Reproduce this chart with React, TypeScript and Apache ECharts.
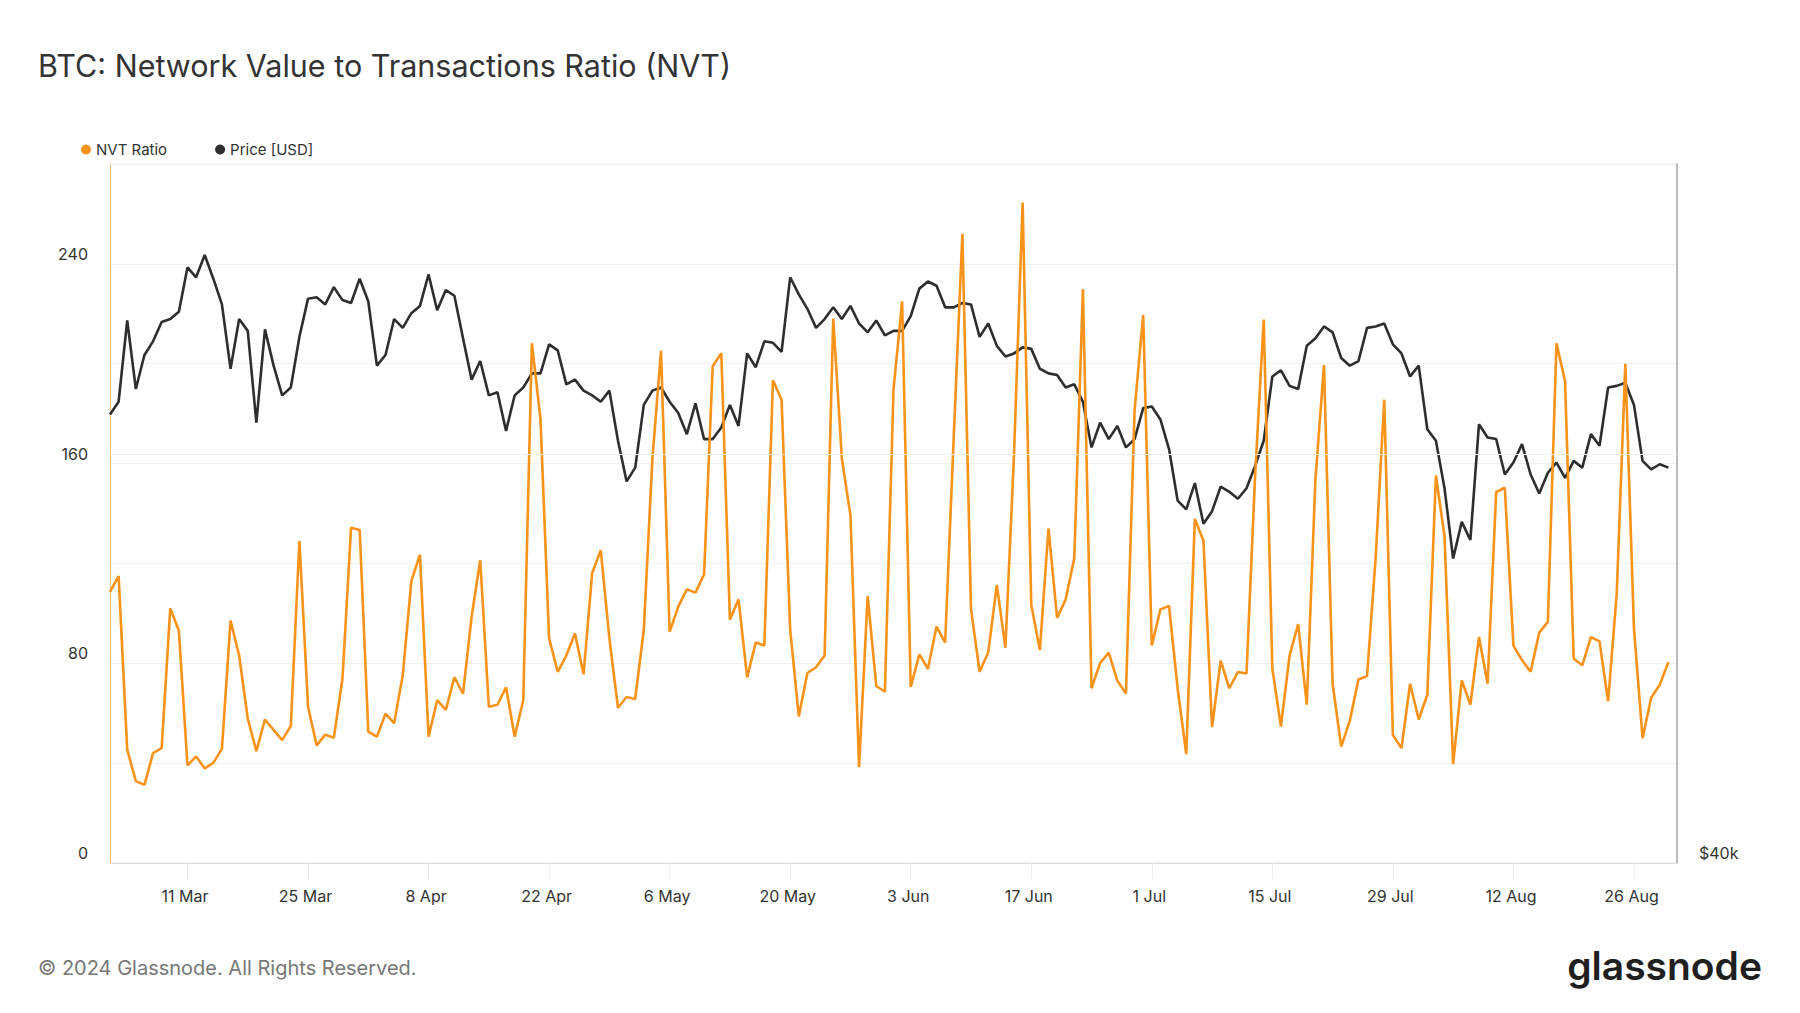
import React, { useEffect, useRef } from "react";
import * as echarts from "echarts";

// Daily values, 2 Mar 2024 -> 30 Aug 2024
const startDate = { y: 2024, m: 2, d: 2 }; // month is 0-based (March)
const axisDays = 183; // 2 Mar .. 31 Aug (last category has no data)

const nvtRatio: number[] = [
  108.6, 114.9, 45.4, 32.8, 31.3, 44.0, 46.0, 102.0, 93.0, 39.1,
  42.7, 37.9, 40.1, 45.7, 97.1, 83.1, 57.9, 44.8, 57.5, 53.3,
  49.2, 54.9, 129.1, 62.7, 47.1, 51.4, 50.2, 73.8, 134.3, 133.4,
  52.6, 50.6, 59.8, 56.0, 75.2, 112.9, 123.5, 50.6, 65.2, 61.3,
  74.4, 67.8, 98.7, 121.3, 62.6, 63.4, 70.4, 50.6, 65.3, 208.2,
  177.8, 90.0, 76.6, 83.1, 91.9, 75.6, 116.1, 125.3, 90.0, 62.2,
  66.5, 65.7, 93.5, 162.1, 205.2, 92.6, 102.7, 109.6, 108.3, 115.6,
  199.0, 204.2, 97.5, 105.6, 74.4, 88.3, 87.1, 193.4, 185.6, 93.5,
  58.7, 76.1, 78.4, 83.1, 218.1, 162.1, 139.2, 38.4, 106.9, 70.9,
  68.6, 189.6, 225.0, 70.5, 83.6, 77.8, 94.7, 88.3, 170.8, 252.0,
  101.8, 76.6, 84.3, 111.4, 86.2, 163.9, 264.6, 103.4, 85.3, 134.0,
  98.2, 105.6, 122.2, 229.9, 70.0, 80.1, 84.3, 73.0, 67.9, 181.2,
  219.5, 87.1, 101.6, 103.0, 70.0, 43.6, 137.8, 129.1, 54.4, 81.1,
  70.0, 76.5, 75.9, 155.2, 217.7, 77.8, 54.7, 83.1, 95.7, 63.4,
  153.4, 199.5, 71.8, 46.6, 57.0, 73.5, 74.9, 122.2, 185.6, 51.3,
  46.0, 71.8, 57.5, 67.4, 155.2, 130.8, 39.6, 73.2, 63.4, 90.5,
  71.8, 148.6, 150.3, 87.1, 81.3, 76.6, 92.3, 96.6, 208.2, 193.0,
  81.8, 79.2, 90.5, 88.8, 64.8, 107.9, 200.0, 94.0, 50.0, 66.2,
  71.4, 80.5,
];

// BTC price in thousands of USD
const priceK: number[] = [
  62.4, 63.2, 68.5, 64.0, 66.2, 67.1, 68.4, 68.6, 69.1, 72.2,
  71.5, 73.1, 71.4, 69.6, 65.3, 68.6, 67.8, 61.9, 67.9, 65.5,
  63.6, 64.1, 67.4, 70.0, 70.1, 69.6, 70.8, 69.9, 69.7, 71.4,
  69.8, 65.5, 66.2, 68.6, 68.0, 69.0, 69.5, 71.7, 69.2, 70.6,
  70.2, 67.3, 64.6, 65.8, 63.6, 63.8, 61.4, 63.6, 64.1, 65.0,
  65.0, 66.9, 66.5, 64.3, 64.6, 63.9, 63.6, 63.2, 63.9, 60.8,
  58.4, 59.2, 63.0, 63.9, 64.1, 63.2, 62.5, 61.2, 63.1, 60.9,
  60.9, 61.6, 63.0, 61.7, 66.3, 65.4, 67.1, 67.0, 66.4, 71.5,
  70.3, 69.3, 68.0, 68.6, 69.4, 68.6, 69.5, 68.3, 67.7, 68.5,
  67.5, 67.8, 67.8, 68.8, 70.7, 71.2, 70.9, 69.4, 69.4, 69.7,
  69.6, 67.4, 68.3, 66.8, 66.1, 66.3, 66.7, 66.6, 65.3, 65.0,
  64.9, 64.1, 64.3, 63.2, 60.4, 61.9, 60.9, 61.7, 60.4, 60.9,
  62.8, 62.9, 62.1, 60.3, 57.3, 56.8, 58.3, 56.0, 56.7, 58.1,
  57.8, 57.4, 58.0, 59.3, 60.8, 64.8, 65.2, 64.2, 64.0, 66.8,
  67.3, 68.1, 67.7, 66.0, 65.5, 65.8, 68.0, 68.1, 68.3, 66.9,
  66.3, 64.8, 65.5, 61.5, 60.8, 58.0, 54.1, 56.1, 55.1, 61.8,
  61.0, 60.9, 58.8, 59.5, 60.6, 58.8, 57.7, 58.9, 59.5, 58.6,
  59.6, 59.2, 61.2, 60.5, 64.1, 64.2, 64.4, 63.0, 59.6, 59.1,
  59.4, 59.2,
];

const leftTickLabels: number[] = [0, 80, 160, 240];
const rightTickLabel = { value: 40000, text: "$40k" };
const priceGridValue = 60000;
const firstLabelIndex = 9; // 11 Mar
const labelEveryDays = 14;

const monthNames = ["Jan", "Feb", "Mar", "Apr", "May", "Jun", "Jul", "Aug", "Sep", "Oct", "Nov", "Dec"];

const categories: string[] = [];
for (let i = 0; i < axisDays; i++) {
  const dt = new Date(Date.UTC(startDate.y, startDate.m, startDate.d + i));
  categories.push(`${dt.getUTCDate()} ${monthNames[dt.getUTCMonth()]}`);
}

const FONT = "Inter, 'Noto Sans', sans-serif";
const ORANGE = "#f7931a";
const DARK = "#2e2e2e";

export default function App() {
  const ref = useRef<HTMLDivElement>(null);

  useEffect(() => {
    if (!ref.current) return;
    const chart = echarts.init(ref.current, null, { renderer: "svg" });
    const showLabel = (idx: number) => idx >= firstLabelIndex && (idx - firstLabelIndex) % labelEveryDays === 0;

    chart.setOption({
      animation: false,
      backgroundColor: "#ffffff",
      textStyle: { fontFamily: FONT },
      title: {
        text: "BTC: Network Value to Transactions Ratio (NVT)",
        left: 33,
        top: 45,
        textStyle: { fontFamily: FONT, fontSize: 30.5, fontWeight: 400, color: "#333333" },
      },
      legend: {
        left: 76,
        top: 137,
        icon: "circle",
        itemWidth: 10,
        itemHeight: 10,
        itemGap: 48,
        data: ["NVT Ratio", "Price [USD]"],
        textStyle: { fontFamily: FONT, fontSize: 15, color: "#333333" },
      },
      grid: {
        left: 110,
        top: 164,
        width: 1567,
        height: 699,
        show: true,
        borderColor: "#ececec",
        borderWidth: 1,
        containLabel: false,
      },
      xAxis: {
        type: "category",
        data: categories,
        boundaryGap: false,
        axisLine: { show: true, lineStyle: { color: "#dcdcdc", width: 1 } },
        axisTick: { show: true, length: 16, interval: (idx: number) => showLabel(idx), lineStyle: { color: "#eeeeee" } },
        axisLabel: {
          interval: (idx: number) => showLabel(idx),
          margin: 25,
          padding: [0, 5, 0, 0],
          fontSize: 16,
          color: "#333333",
          fontFamily: FONT,
        },
        splitLine: { show: false },
      },
      yAxis: [
        {
          type: "value",
          min: 0,
          max: 280,
          interval: 40,
          position: "left",
          axisLine: { show: true, lineStyle: { color: "rgba(247,147,26,0.55)", width: 1 } },
          axisTick: { show: false },
          splitLine: { show: true, lineStyle: { color: "#f0f0f0", width: 1 } },
          axisLabel: {
            formatter: (v: number) => (leftTickLabels.includes(v) ? String(v) : ""),
            verticalAlign: "bottom",
            margin: 22,
            padding: [0, 0, 2, 0],
            fontSize: 16,
            color: "#333333",
            fontFamily: FONT,
          },
        },
        {
          type: "log",
          logBase: 10,
          min: 40000,
          max: 80000,
          position: "right",
          axisLine: { show: true, lineStyle: { color: "#a8a8a8", width: 1.5 } },
          axisTick: { show: false },
          splitLine: { show: false },
          axisLabel: {
            formatter: (v: number) => (Math.abs(v - rightTickLabel.value) < 1 ? rightTickLabel.text : ""),
            verticalAlign: "bottom",
            margin: 22,
            padding: [0, 0, 2, 0],
            fontSize: 16,
            color: "#333333",
            fontFamily: FONT,
          },
        },
      ],
      series: [
        {
          name: "gridline",
          type: "line",
          yAxisIndex: 1,
          data: [],
          z: 1,
          silent: true,
          markLine: {
            silent: true,
            symbol: ["none", "none"],
            label: { show: false },
            lineStyle: { color: "#f0f0f0", width: 1, type: "solid" },
            data: [{ yAxis: priceGridValue }],
          },
        },
        {
          name: "Price [USD]",
          type: "line",
          yAxisIndex: 1,
          data: priceK.map((p) => p * 1000),
          showSymbol: false,
          symbol: "none",
          z: 3,
          color: DARK,
          lineStyle: { color: DARK, width: 2.6 },
        },
        {
          name: "NVT Ratio",
          type: "line",
          yAxisIndex: 0,
          data: nvtRatio,
          showSymbol: false,
          symbol: "none",
          z: 4,
          color: ORANGE,
          lineStyle: { color: ORANGE, width: 2.6 },
        },
      ],
      graphic: [
        {
          type: "text",
          left: 38,
          top: 958,
          style: {
            text: "© 2024 Glassnode. All Rights Reserved.",
            fontFamily: FONT,
            fontSize: 20,
            fill: "#777777",
          },
        },
        {
          type: "text",
          right: 38,
          top: 946,
          style: {
            text: "glassnode",
            fontFamily: FONT,
            fontSize: 39,
            fontWeight: 600,
            fill: "#1f1f1f",
          },
        },
      ],
    });

    return () => chart.dispose();
  }, []);

  return (
    <div
      ref={ref}
      style={{ position: "fixed", left: 0, top: 0, width: 1800, height: 1013, background: "#fff" }}
    />
  );
}
